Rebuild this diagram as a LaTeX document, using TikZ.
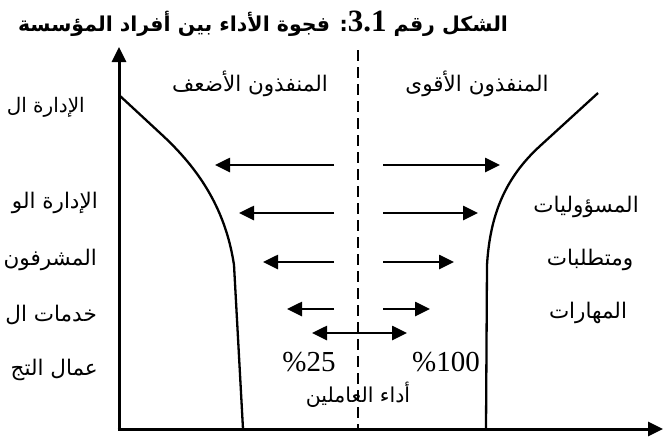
\documentclass[tikz,border=0pt]{standalone}
\usepackage{fontspec}
\setmainfont{Liberation Serif}
\newfontfamily\arabicfont[Script=Arabic]{DejaVu Sans}
\TeXXeTstate=1
\usetikzlibrary{arrows.meta}
\begin{document}
\begin{tikzpicture}[x=1pt,y=-1pt,
  axisline/.style={line width=3pt,-{Triangle[length=15pt,width=14pt]}},
  curveline/.style={line width=2.3pt},
  arr/.style={line width=2.6pt,-{Triangle[length=15pt,width=14pt]}},
  dblarr/.style={line width=2.6pt,{Triangle[length=15pt,width=14pt]}-{Triangle[length=15pt,width=14pt]}},
  midline/.style={line width=2.6pt,dash pattern=on 11pt off 6pt},
  artext/.style={inner sep=0pt,font=\arabicfont\fontsize{21.5}{24}\selectfont},
  smalltext/.style={inner sep=0pt,font=\arabicfont\fontsize{20.5}{24}\selectfont},
  pct/.style={inner sep=0pt,font=\fontsize{29}{32}\selectfont}]
\useasboundingbox (0,0) rectangle (664,437);

% axes
\coordinate (O) at (117.5,429);
\coordinate (Ytop) at (119,47);
\coordinate (Xend) at (663,429);
\draw[axisline] (119,429) -- (Ytop);
\draw[axisline] (O) -- (Xend);

% dashed middle line
\coordinate (Mtop) at (358,50);
\coordinate (Mbot) at (358,429);
\draw[midline] (Mtop) -- (Mbot);

% curves
\coordinate (L0) at (119,95);
\coordinate (L1) at (160,133);
\coordinate (L2) at (234,265);
\coordinate (L3) at (243,429);
\draw[curveline] (L0) -- (L1) .. controls (195,165) and (225,205) .. (L2) -- (L3);
\coordinate (R0) at (598,93);
\coordinate (R1) at (540,146);
\coordinate (R2) at (487,265);
\coordinate (R3) at (486,429);
\draw[curveline] (R0) -- (R1) .. controls (505,178) and (490,215) .. (R2) -- (R3);

% arrows
\foreach \i/\y/\l/\r in {1/165/215/500, 2/213/239/478, 3/262/263/454, 4/309/287/430}{
  \coordinate (ls\i) at (334,\y);
  \coordinate (le\i) at (\l,\y);
  \coordinate (rs\i) at (383,\y);
  \coordinate (re\i) at (\r,\y);
  \draw[arr] (ls\i) -- (le\i);
  \draw[arr] (rs\i) -- (re\i);
}
\coordinate (dl) at (312,333);
\coordinate (dr) at (407,333);
\draw[dblarr] (dl) -- (dr);

% title
\node[inner sep=0pt,font=\arabicfont\bfseries\fontsize{20.5}{24}\selectfont] (title) at (263,24)
  {\beginR الشكل رقم \beginL{\rmfamily\bfseries\fontsize{31}{32}\selectfont 3.1}\endL: فجوة الأداء بين أفراد المؤسسة\endR};

% top labels
\node[artext] (weak) at (250,84) {\beginR المنفذون الأضعف\endR};
\node[artext] (strong) at (477,84) {\beginR المنفذون الأقوى\endR};

% left labels (as far as the picture shows them)
\node[artext,anchor=east,font=\arabicfont\fontsize{20}{24}\selectfont] (l1) at (85,107) {\beginR الإدارة ال\endR};
\node[artext,anchor=east] (l2) at (98,203) {\beginR الإدارة الو\endR};
\node[artext,anchor=east] (l3) at (97,260) {\beginR المشرفون\endR};
\node[artext,anchor=east] (l4) at (97,315) {\beginR خدمات ال\endR};
\node[artext,anchor=east] (l5) at (98,370) {\beginR عمال التج\endR};

% right labels
\node[artext] (r1) at (586,207) {\beginR المسؤوليات\endR};
\node[artext] (r2) at (590,260) {\beginR ومتطلبات\endR};
\node[artext] (r3) at (588,313) {\beginR المهارات\endR};

% percentages
\node[pct] (p25) at (309,362) {\%25};
\node[pct] (p100) at (446,362) {\%100};
\node[smalltext] (perf) at (358,395) {\beginR أداء العاملين\endR};
\end{tikzpicture}
\end{document}
